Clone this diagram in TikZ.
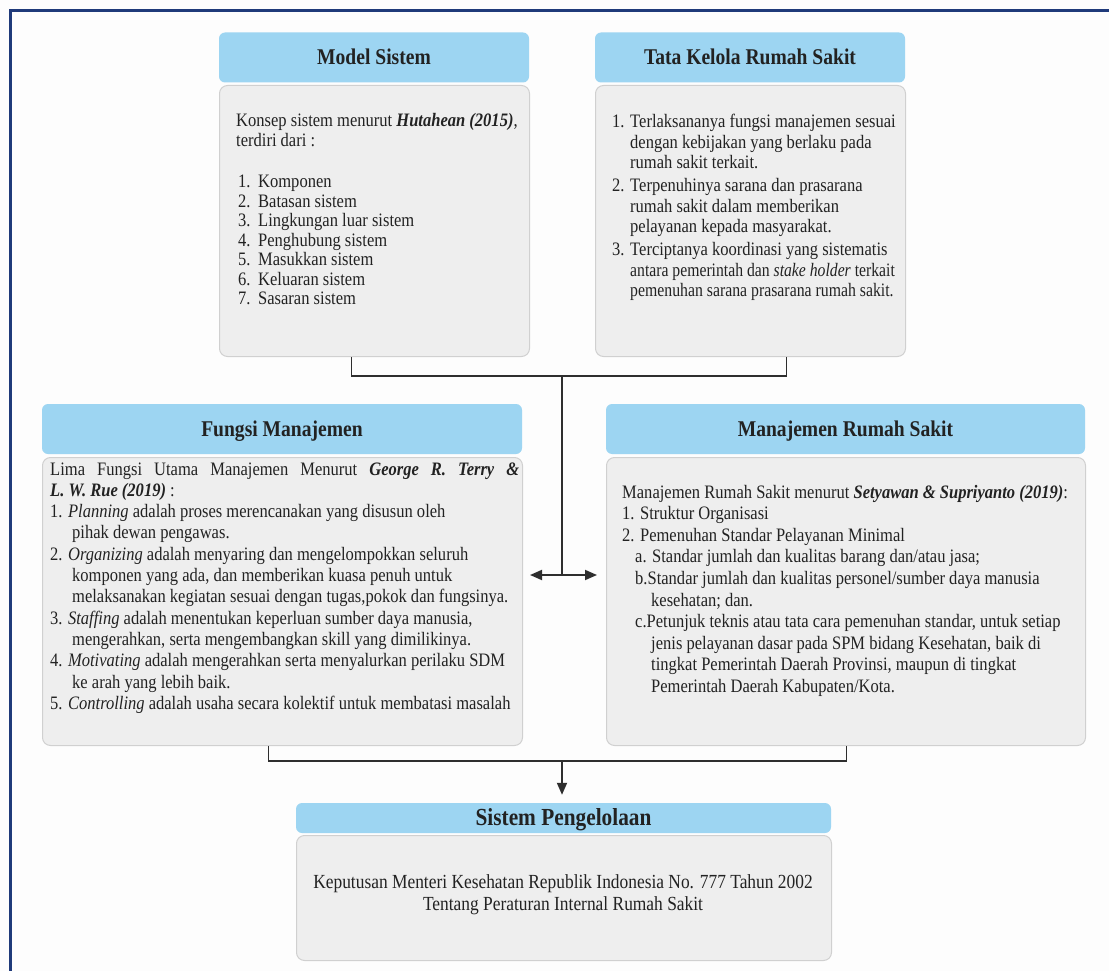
\documentclass[tikz,border=0pt]{standalone}
\usepackage{fontspec}
\setmainfont{Liberation Serif}[FakeStretch=0.87]
\usetikzlibrary{arrows.meta}

\definecolor{hdrblue}{HTML}{9DD5F2}
\definecolor{boxgray}{HTML}{EEEEEE}
\definecolor{boxline}{HTML}{D0D0D0}
\definecolor{linegray}{HTML}{2E2E2E}
\definecolor{framenavy}{HTML}{1F3A7A}
\definecolor{inkgray}{HTML}{222222}
\definecolor{pagewhite}{HTML}{FDFDFD}

\tikzset{
  hdr/.style={fill=hdrblue, draw=none, rounded corners=6pt, inner sep=0pt,
              text height=15pt, text depth=0pt, text=inkgray,
              font=\fontsize{22.5}{24}\selectfont\bfseries},
  bodybox/.style={fill=boxgray, draw=boxline, line width=1pt, rounded corners=8pt,
                  inner sep=0pt, anchor=north west},
  txt/.style={inner sep=0pt, anchor=base west, text=inkgray},
  conn/.style={draw=linegray, line width=1.8pt},
  tip/.style={-{Triangle[length=12pt,width=10pt]}},
}

\begin{document}
\begin{tikzpicture}[x=1pt,y=-1pt]
\useasboundingbox (0,0) rectangle (1109,971);
\fill[pagewhite] (0,0) rectangle (1109,971);
% outer frame (top and left edges)
\draw[framenavy, line width=3pt] (10,971) -- (10,11) -- (1109,11);

% ---------- Model Sistem ----------
\node[hdr, minimum width=310pt, minimum height=50pt] (mshdr) at (374,57.5) {Model Sistem};
\node[bodybox, minimum width=310pt, minimum height=271pt] (msbody) at (219,85) {};
\node[txt] (mstext) at (236,127) {\parbox[t]{400pt}{\fontsize{19}{19.5}\selectfont\raggedright
Konsep sistem menurut \textbf{\textit{Hutahean (2015)}},\\
terdiri dari :\\[22pt]
\hspace*{2pt}\makebox[20pt][l]{1.}Komponen\\
\hspace*{2pt}\makebox[20pt][l]{2.}Batasan sistem\\
\hspace*{2pt}\makebox[20pt][l]{3.}Lingkungan luar sistem\\
\hspace*{2pt}\makebox[20pt][l]{4.}Penghubung sistem\\
\hspace*{2pt}\makebox[20pt][l]{5.}Masukkan sistem\\
\hspace*{2pt}\makebox[20pt][l]{6.}Keluaran sistem\\
\hspace*{2pt}\makebox[20pt][l]{7.}Sasaran sistem}};

% ---------- Tata Kelola Rumah Sakit ----------
\node[hdr, minimum width=310pt, minimum height=50pt] (tkhdr) at (750,57.5) {Tata Kelola Rumah Sakit};
\node[bodybox, minimum width=310pt, minimum height=271pt] (tkbody) at (595,85) {};
\node[txt] (tktext) at (612,128) {\parbox[t]{400pt}{\fontsize{19}{20.5}\selectfont\raggedright
\makebox[18pt][l]{1.}Terlaksananya fungsi manajemen sesuai\\
\hspace*{18pt}dengan kebijakan yang berlaku pada\\
\hspace*{18pt}rumah sakit terkait.\\[2.5pt]
\makebox[18pt][l]{2.}Terpenuhinya sarana dan prasarana\\
\hspace*{18pt}rumah sakit dalam memberikan\\
\hspace*{18pt}pelayanan kepada masyarakat.\\[2.5pt]
\makebox[18pt][l]{3.}Terciptanya koordinasi yang sistematis\\
\hspace*{18pt}\scalebox{0.95}[1]{antara pemerintah dan \textit{stake holder} terkait}\\
\hspace*{18pt}\scalebox{0.955}[1]{pemenuhan sarana prasarana rumah sakit.}}};

% ---------- Fungsi Manajemen ----------
\node[hdr, minimum width=480pt, minimum height=50pt] (fmhdr) at (282,429) {Fungsi Manajemen};
\node[bodybox, minimum width=480pt, minimum height=288pt] (fmbody) at (42,457) {};
\node[txt] (fmtext) at (50,475) {\parbox[t]{560pt}{\fontsize{19}{21.3}\selectfont\raggedright
\makebox[469pt][s]{Lima Fungsi Utama Manajemen Menurut \textbf{\textit{George R. Terry \&}}}\\
\textbf{\textit{L. W. Rue (2019)}} :\\
1. \textit{Planning} adalah proses merencanakan yang disusun oleh\\
\hspace*{22pt}pihak dewan pengawas.\\
2. \textit{Organizing} adalah menyaring dan mengelompokkan seluruh\\
\hspace*{22pt}komponen yang ada, dan memberikan kuasa penuh untuk\\
\hspace*{22pt}melaksanakan kegiatan sesuai dengan tugas,pokok dan fungsinya.\\
3. \textit{Staffing} adalah menentukan keperluan sumber daya manusia,\\
\hspace*{22pt}mengerahkan, serta mengembangkan skill yang dimilikinya.\\
4. \textit{Motivating} adalah mengerahkan serta menyalurkan perilaku SDM\\
\hspace*{22pt}ke arah yang lebih baik.\\
5. \textit{Controlling} adalah usaha secara kolektif untuk membatasi masalah}};

% ---------- Manajemen Rumah Sakit ----------
\node[hdr, minimum width=479pt, minimum height=50pt] (mrhdr) at (845.5,429) {Manajemen Rumah Sakit};
\node[bodybox, minimum width=479pt, minimum height=288pt] (mrbody) at (606,457) {};
\node[txt] (mrtext) at (622,498) {\parbox[t]{560pt}{\fontsize{19}{21.6}\selectfont\raggedright
Manajemen Rumah Sakit menurut \textbf{\textit{Setyawan \& Supriyanto (2019)}}:\\
1. Struktur Organisasi\\
2. Pemenuhan Standar Pelayanan Minimal\\
\hspace*{13pt}a. Standar jumlah dan kualitas barang dan/atau jasa;\\
\hspace*{13pt}b.Standar jumlah dan kualitas personel/sumber daya manusia\\
\hspace*{29pt}kesehatan; dan.\\
\hspace*{13pt}c.Petunjuk teknis atau tata cara pemenuhan standar, untuk setiap\\
\hspace*{29pt}jenis pelayanan dasar pada SPM bidang Kesehatan, baik di\\
\hspace*{29pt}tingkat Pemerintah Daerah Provinsi, maupun di tingkat\\
\hspace*{29pt}Pemerintah Daerah Kabupaten/Kota.}};

% ---------- Sistem Pengelolaan ----------
\node[hdr, minimum width=535pt, minimum height=30pt, font=\fontsize{24.5}{26}\selectfont\bfseries]
  (sphdr) at (563.5,818) {Sistem Pengelolaan};
\node[bodybox, minimum width=535pt, minimum height=125pt] (spbody) at (296,835) {};
\node[inner sep=0pt, anchor=base, text=inkgray] (sptext) at (563,888) {\parbox[t]{530pt}{\centering\fontsize{20}{22}\selectfont
Keputusan Menteri Kesehatan Republik Indonesia No. 777 Tahun 2002\\
Tentang Peraturan Internal Rumah Sakit}};

% ---------- connectors ----------
\coordinate (topjoin) at (562,376);
\coordinate (midjoin) at (562,575);
\coordinate (lowjoin) at (562,761);

\draw[conn] ([xshift=-23pt]msbody.south) |- (topjoin);
\draw[conn] ([xshift=36pt]tkbody.south) |- (topjoin);
\draw[conn] (topjoin) -- (midjoin);
\draw[conn, {Triangle[length=12pt,width=10pt]}-{Triangle[length=12pt,width=10pt]},
      shorten <=7pt, shorten >=9pt] (fmbody.east |- midjoin) -- (mrbody.west |- midjoin);

\draw[conn] ([xshift=-14pt]fmbody.south) |- (lowjoin);
\draw[conn] ([xshift=0.5pt]mrbody.south) |- (lowjoin);
\draw[conn, tip, shorten >=8pt] (lowjoin) -- (lowjoin |- sphdr.north);
\end{tikzpicture}
\end{document}
